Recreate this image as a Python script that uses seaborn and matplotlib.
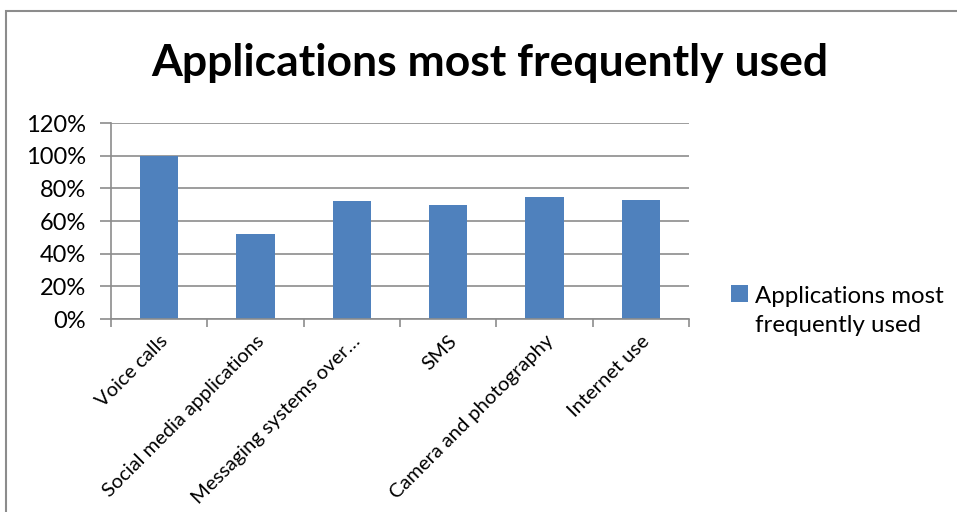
import matplotlib
matplotlib.use("Agg")
import matplotlib.pyplot as plt
import seaborn as sns
import pandas as pd
from matplotlib.patches import Rectangle
from matplotlib.ticker import FuncFormatter
from matplotlib.legend_handler import HandlerPatch

categories = ["Voice calls", "Social media applications", "Messaging systems over…",
              "SMS", "Camera and photography", "Internet use"]
values = [1.00, 0.52, 0.72, 0.70, 0.75, 0.73]
series_name = "Applications most\nfrequently used"
title = "Applications most frequently used"

sns.set_theme(style="white")
plt.rcParams['font.family'] = ['Lato', 'DejaVu Sans']
plt.rcParams['text.color'] = 'black'
plt.rcParams['xtick.color'] = 'black'
plt.rcParams['ytick.color'] = 'black'

df = pd.DataFrame({"category": categories, "value": values, "series": series_name})

fig = plt.figure(figsize=(9.57, 5.12), dpi=100)
ax = fig.add_axes([111/957, 1-319/512, (689-111)/957, (319-123)/512])

sns.barplot(data=df, x="category", y="value", hue="series", palette=["#4F81BD"],
            width=0.4, ax=ax, legend=True, saturation=1, linewidth=0)

ax.set_ylim(0, 1.2)
ax.set_xlim(-0.5, len(categories)-0.5)
ax.set_yticks([0, 0.2, 0.4, 0.6, 0.8, 1.0, 1.2])
ax.yaxis.set_major_formatter(FuncFormatter(lambda v, p: f"{int(round(v*100))}%"))
ax.grid(axis='y', color='#8c8c8c', linewidth=1.2)
ax.set_axisbelow(True)
for s in ['top', 'right']:
    ax.spines[s].set_visible(False)
for s in ['left', 'bottom']:
    ax.spines[s].set_color('#8c8c8c')
    ax.spines[s].set_linewidth(1.2)
ax.set_xlabel("")
ax.set_ylabel("")
ax.tick_params(axis='y', length=8, color='#8c8c8c', width=1.2, labelsize=17, pad=10,
               left=True, labelcolor='black')
ax.tick_params(axis='x', bottom=False, labelsize=14.5, labelcolor='black')

ax.set_xticks(range(len(categories)))
ax.set_xticklabels(categories, rotation=45, ha='right', rotation_mode='anchor')
ax.set_xticks([i - 0.5 for i in range(len(categories)+1)], minor=True)
ax.tick_params(axis='x', which='minor', bottom=True, length=6, color='#8c8c8c', width=1.2)


def top_square(legend, orig_handle, xdescent, ydescent, width, height, fontsize):
    return Rectangle((-xdescent, -ydescent + 13), width, height)


handles, labels = ax.get_legend_handles_labels()
leg = ax.legend(handles, labels, loc='center left', bbox_to_anchor=(1.035, 0.04), frameon=False,
                fontsize=17.3, handlelength=0.72, handleheight=0.72, handletextpad=0.3,
                handler_map={handles[0]: HandlerPatch(patch_func=top_square)})
for t in leg.get_texts():
    t.set_linespacing(1.5)

fig.text(490/957, 1-63/512, title, ha='center', va='center', fontsize=32, fontweight='bold')

fig.patches.append(Rectangle((6/957, -0.1), 1.2, 1.1 - 11/512, transform=fig.transFigure,
                             fill=False, edgecolor='#8c8c8c', linewidth=1.5))

fig.savefig("out.png", dpi=100)
